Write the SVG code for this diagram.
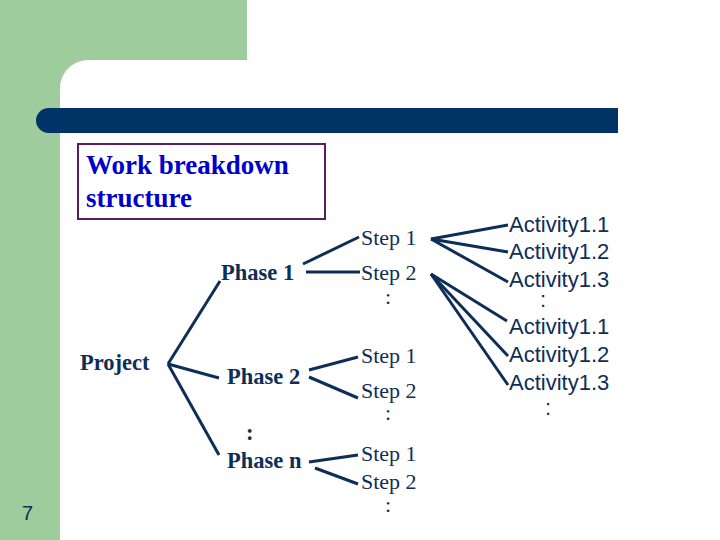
<svg xmlns="http://www.w3.org/2000/svg" width="720" height="540" viewBox="0 0 720 540">
<style>
.n{font-family:'Liberation Serif','DejaVu Serif',serif;font-size:22px;fill:#0d2e57}
.a{font-family:'Liberation Sans','DejaVu Sans',sans-serif;font-size:22px;fill:#0d2e57}
.b{font-weight:bold;font-size:22.5px}
.t{font-family:'Liberation Serif','DejaVu Serif',serif;font-size:27px;font-weight:bold;fill:#0000cc}
#connectors line{stroke:#0d2e57;stroke-width:3}
</style>
<rect width="720" height="540" fill="#fff"/>
<rect x="0" y="0" width="247" height="60" fill="#9ecc9c"/>
<rect x="0" y="0" width="60" height="540" fill="#9ecc9c"/>
<path d="M60 60 H88 A28 28 0 0 0 60 88 Z" fill="#9ecc9c"/>
<path d="M36 120.5 A12.5 12.5 0 0 1 48.5 108 H618 V133 H48.5 A12.5 12.5 0 0 1 36 120.5 Z" fill="#003466"/>
<g id="title"><rect x="78" y="144" width="247" height="75" fill="none" stroke="#5a1e5a" stroke-width="2"/>
<text class="t" x="86" y="174">Work breakdown</text><text class="t" x="86" y="207">structure</text></g>
<text x="22" y="520" font-family="Liberation Sans,sans-serif" font-size="20" fill="#0d2e57">7</text>
<g id="connectors">
<line x1="168" y1="364" x2="220" y2="281"/><line x1="168" y1="364" x2="219" y2="378"/><line x1="168" y1="364" x2="219" y2="455"/>
<line x1="303" y1="264" x2="359" y2="237"/><line x1="306" y1="272" x2="360" y2="272"/>
<line x1="309" y1="370" x2="358" y2="357"/><line x1="309" y1="377" x2="358" y2="398"/>
<line x1="309" y1="462" x2="358" y2="455"/><line x1="315" y1="468" x2="358" y2="484"/>
<line x1="431" y1="239" x2="508" y2="225"/><line x1="431" y1="239" x2="508" y2="252"/><line x1="431" y1="239" x2="508" y2="282"/>
<line x1="431" y1="274" x2="507" y2="321"/><line x1="431" y1="274" x2="508" y2="356"/><line x1="431" y1="274" x2="508" y2="385"/>
</g>
<g id="project"><text class="n b" x="80" y="370">Project</text></g>
<g id="phase1"><text class="n b" x="221" y="280">Phase 1</text></g>
<g id="phase2"><text class="n b" x="227" y="384">Phase 2</text></g>
<g id="phasedots"><text class="n b" x="246" y="440">:</text></g>
<g id="phasen"><text class="n b" x="227" y="468">Phase n</text></g>
<g id="steps">
<text class="n" x="361" y="245">Step 1</text><text class="n" x="361" y="280">Step 2</text><text class="n" x="385" y="304">:</text>
<text class="n" x="361" y="363">Step 1</text><text class="n" x="361" y="398">Step 2</text><text class="n" x="385" y="420">:</text>
<text class="n" x="361" y="461">Step 1</text><text class="n" x="361" y="489">Step 2</text><text class="n" x="385" y="512">:</text>
</g>
<g id="activities">
<text class="a" x="509" y="232">Activity1.1</text><text class="a" x="509" y="259">Activity1.2</text><text class="a" x="509" y="287">Activity1.3</text>
<text class="a" x="540" y="307">:</text>
<text class="a" x="509" y="334">Activity1.1</text><text class="a" x="509" y="362">Activity1.2</text><text class="a" x="509" y="390">Activity1.3</text>
<text class="a" x="545" y="415">:</text>
</g>
</svg>
